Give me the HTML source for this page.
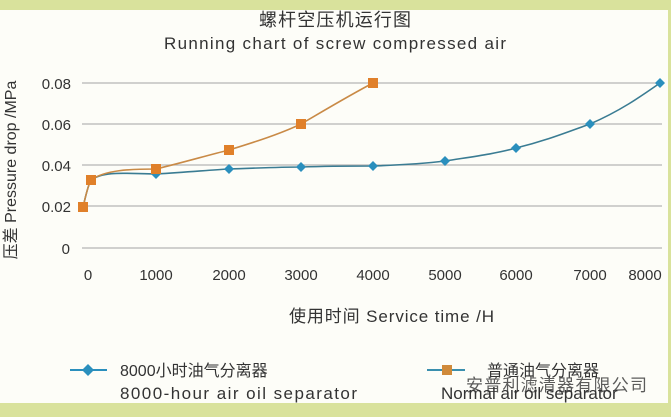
<!DOCTYPE html>
<html><head><meta charset="utf-8"><style>
body{margin:0;width:671px;height:417px;background:#d9e29c;overflow:hidden}
svg{display:block}
text{font-family:"Liberation Sans","Noto Sans CJK SC",sans-serif;fill:#333}
</style></head><body>
<svg width="671" height="417" viewBox="0 0 671 417">
<rect x="0" y="0" width="671" height="417" fill="#d9e29c"/>
<rect x="0" y="10" width="668" height="393" fill="#fdfdf8"/>
<text x="335" y="26" font-size="18" text-anchor="middle" fill="#444" textLength="152">螺杆空压机运行图</text>
<text x="335" y="49" font-size="17" text-anchor="middle" fill="#555" textLength="342">Running chart of screw compressed air</text>
<g stroke="#b5b5b5" stroke-width="1.3">
<line x1="82" y1="83" x2="662" y2="83"/><line x1="82" y1="124" x2="662" y2="124"/>
<line x1="82" y1="165" x2="662" y2="165"/><line x1="82" y1="206" x2="662" y2="206"/>
<line x1="82" y1="248" x2="662" y2="248"/>
</g>
<g font-size="15" text-anchor="end">
<text x="71" y="89">0.08</text><text x="71" y="130">0.06</text><text x="71" y="171">0.04</text>
<text x="71" y="212">0.02</text><text x="70" y="254">0</text>
</g>
<g font-size="15" text-anchor="middle">
<text x="88" y="280">0</text><text x="156" y="280">1000</text><text x="229" y="280">2000</text>
<text x="301" y="280">3000</text><text x="373" y="280">4000</text><text x="445" y="280">5000</text>
<text x="516" y="280">6000</text><text x="590" y="280">7000</text><text x="645" y="280">8000</text>
</g>
<text transform="translate(16,170) rotate(-90)" font-size="16" text-anchor="middle">压差 Pressure drop /MPa</text>
<text x="289" y="322" font-size="17" textLength="205">使用时间 Service time /H</text>
<path d="M83,207 C86,195 88,185 91,180 C105,170 130,174 156,174 C190,172 210,170 229,169 C260,168 280,167 301,167 C330,166 350,166 373,166 C400,165 420,164 445,161 C470,157 495,154 516,148 C545,141 565,133 590,124 C620,111 640,97 660,83" fill="none" stroke="#3a7c93" stroke-width="1.6"/>
<path d="M83,207 C86,195 88,185 91,180 C105,170 130,169 156,169 C185,162 205,156 229,150 C255,142 280,134 301,124 C325,110 350,95 373,83" fill="none" stroke="#c98a46" stroke-width="1.6"/>
<g fill="#2a8fbd">
<path d="M156,169l5,5l-5,5l-5,-5z"/><path d="M229,164l5,5l-5,5l-5,-5z"/><path d="M301,162l5,5l-5,5l-5,-5z"/>
<path d="M373,161l5,5l-5,5l-5,-5z"/><path d="M445,156l5,5l-5,5l-5,-5z"/><path d="M516,143l5,5l-5,5l-5,-5z"/>
<path d="M590,119l5,5l-5,5l-5,-5z"/><path d="M660,78l5,5l-5,5l-5,-5z"/>
</g>
<g fill="#e0802a">
<rect x="78" y="202" width="10" height="10"/><rect x="86" y="175" width="10" height="10"/>
<rect x="151" y="164" width="10" height="10"/><rect x="224" y="145" width="10" height="10"/>
<rect x="296" y="119" width="10" height="10"/><rect x="368" y="78" width="10" height="10"/>
</g>
<line x1="70" y1="370" x2="107" y2="370" stroke="#2a8fbd" stroke-width="2"/>
<path d="M88,364l6,6l-6,6l-6,-6z" fill="#2a8fbd"/>
<text x="120" y="376" font-size="16">8000小时油气分离器</text>
<text x="120" y="399" font-size="17" fill="#444" textLength="237">8000-hour air oil separator</text>
<line x1="427" y1="370" x2="465" y2="370" stroke="#3a8fae" stroke-width="2"/>
<rect x="442" y="365" width="10" height="10" fill="#d08a3a"/>
<text x="487" y="376" font-size="16">普通油气分离器</text>
<text x="441" y="399" font-size="17" fill="#444">Normal air oil separator</text>
<text x="466" y="391" font-size="17" fill="#777" opacity="0.8" textLength="181">安普利滤清器有限公司</text>
</svg>
</body></html>
